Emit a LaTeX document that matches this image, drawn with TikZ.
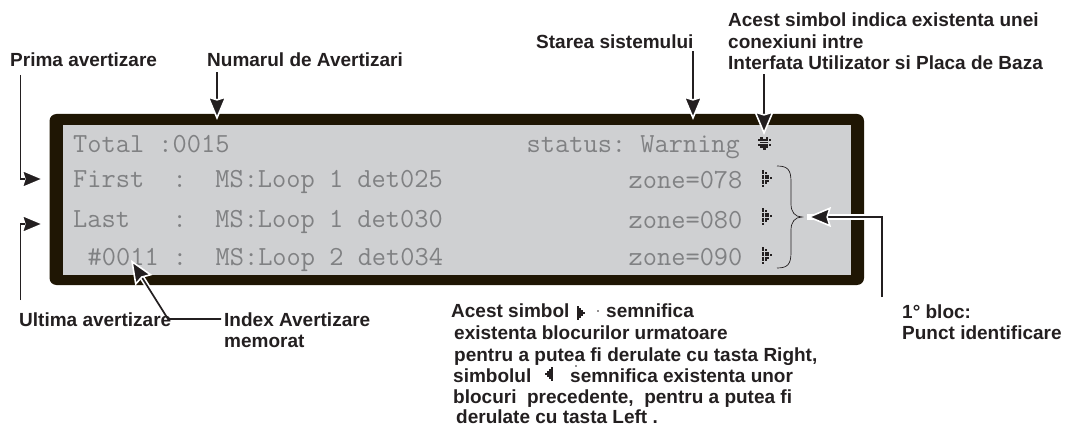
\documentclass[tikz,border=0pt]{standalone}
\usepackage{xcolor}
\usepackage{fontspec}
\setmainfont{Liberation Sans}
\usetikzlibrary{arrows.meta,calc}
\definecolor{framecol}{HTML}{1F1604}
\definecolor{panelcol}{HTML}{CFD0D2}
\definecolor{lcdcol}{HTML}{808183}
\definecolor{inkcol}{HTML}{231F20}
\tikzset{
  lbl/.style={anchor=base west,inner sep=0pt,text=inkcol,font=\fontsize{19}{21}\selectfont\bfseries},
  lcd/.style={anchor=base west,inner sep=0pt,text=lcdcol,font=\fontsize{27.6}{30}\selectfont\ttfamily},
  stem/.style={line width=1.7pt,draw=inkcol},
  arr/.style={stem,-{Stealth[inset=3pt,length=24pt,width=20pt,fill=inkcol,color=white,line width=1.6pt]}},
  pics/ptrglyph/.style={code={
    \foreach \c/\r in {0/0,0/1,0/2,0/3,0/4,0/5,0/6,1/1,1/2,1/3,1/4,1/5,2/2,2/3,2/4,3/3}
      \fill[inkcol] (\c*2.5,\r*2.45) rectangle ++(2,1.95);
  }},
  pics/linkglyph/.style={code={
    \foreach \c/\r in {1/0,3/0,0/1,1/1,2/1,3/1,4/1,1/2,2/2,3/2,0/3,1/3,2/3,3/3,4/3,1/4,2/4,3/4,2/5}
      \fill[inkcol] (\c*2.8,\r*2.3) rectangle ++(2.4,1.9);
  }},
}
\begin{document}
\begin{tikzpicture}[line cap=butt,line join=miter,x=1pt,y=-1pt]
\useasboundingbox (0,0) rectangle (1069,425);
% display
\fill [framecol,rounded corners=7pt] (49.5,114) rectangle (864,285);
\fill [panelcol] (63,125) rectangle (851,275);
\draw (73,153) node[lcd] (total) {Total~:0015};
\draw (73,188) node[lcd] (first) {First~~:~~MS:Loop~1~det025};
\draw (73,227) node[lcd] (last) {Last~~~:~~MS:Loop~1~det030};
\draw (87.5,265) node[lcd] (stored) {\#0011~:~~MS:Loop~2~det034};
\draw (526.5,153) node[lcd] (status) {status:~Warning};
\draw (628.5,189) node[lcd] (zonea) {zone=078};
\draw (628.5,228) node[lcd] (zoneb) {zone=080};
\draw (628.5,265) node[lcd] (zonec) {zone=090};
\pic at (757.5,137) {linkglyph};
\pic at (762,170) {ptrglyph};
\pic at (762,208) {ptrglyph};
\pic at (762,247) {ptrglyph};
% brace
\draw [line width=0.7pt,inkcol] (777,166) .. controls (788,166) and (791,170) .. (791,182) -- (791,204)
  .. controls (791,212) and (795,217) .. (802,217) .. controls (795,217) and (791,222) .. (791,230)
  -- (791,252) .. controls (791,264) and (788,268) .. (777,268);
% labels
\draw (10,67) node[lbl] (prima) {Prima avertizare};
\draw (207,67) node[lbl] (numarul) {Numarul de Avertizari};
\draw (536,49) node[lbl] (starea) {Starea sistemului};
\draw (728,27) node[lbl] (simbola) {Acest simbol indica existenta unei};
\draw (728,49) node[lbl] (simbolb) {conexiuni intre};
\draw (728,70) node[lbl] (simbolc) {Interfata Utilizator si Placa de Baza};
\draw (19,326) node[lbl] (ultima) {Ultima avertizare};
\draw (224,326) node[lbl] (indexa) {Index Avertizare};
\draw (224,347) node[lbl] (indexb) {memorat};
\draw (902,318) node[lbl] (bloca) {1° bloc:};
\draw (902,339) node[lbl] (blocb) {Punct identificare};
\draw (451,317) node[lbl] (nota) {Acest simbol};
\draw (606,317) node[lbl] (notb) {semnifica};
\draw (454,339) node[lbl] (notc) {existenta blocurilor urmatoare};
\draw (454,361) node[lbl] (notd) {pentru a putea fi derulate cu tasta Right,};
\draw (453,382) node[lbl] (note) {simbolul};
\draw (570,382) node[lbl] (notf) {semnifica existenta unor};
\draw (453,403) node[lbl] (notg) {blocuri~ precedente,~ pentru a putea fi};
\draw (456,423) node[lbl] (noth) {derulate cu tasta Left .};
\pic [scale=0.85] at (577,306) {ptrglyph};
\pic [xscale=-0.85,yscale=0.85] at (553,367) {ptrglyph};
\fill [inkcol] (598,311) circle (0.8);
\fill [inkcol] (576,366) circle (0.8);
% connector ends
\coordinate (tipfirst) at (45,179);
\coordinate (tiplast) at (45,224);
\coordinate (bendfirst) at (20,179);
\coordinate (bendlast) at (20,224);
\coordinate (startfirst) at (20.5,75);
\coordinate (startlast) at (20.5,300);
\coordinate (tipnumar) at (217,120);
\coordinate (tipstare) at (693,120);
\coordinate (tiplink) at (764,135);
\coordinate (tipbloc) at (807,217);
\coordinate (bendbloc) at (882,217);
\coordinate (startbloc) at (882,297);
\coordinate (tipindex) at (131,260);
\coordinate (bendindex) at (168,319);
% connectors
\draw [arr] (bendfirst) -- (tipfirst);
\draw [stem] (startfirst) |- ($(tipfirst)+(-20,0)$);
\draw [arr] (bendlast) -- (tiplast);
\draw [stem] (startlast) |- ($(tiplast)+(-20,0)$);
\draw [arr] (numarul.south -| tipnumar)++(0,5) -- (tipnumar);
\draw [arr] (starea.south -| tipstare)++(0,2) -- (tipstare);
\draw [arr] (simbolc.south -| tiplink)++(0,4) -- (tiplink);
\draw [white,line width=6pt] (tipbloc) -- (bendbloc);
\draw [arr] (startbloc) |- (tipbloc);
\draw [white,line width=5pt] ($(tipindex)!0.3!(bendindex)$) -- ($(tipindex)!0.55!(bendindex)$);
\draw [arr] (indexa.base west)++(-3,-7) -- (bendindex) -- (tipindex);
\end{tikzpicture}
\end{document}
